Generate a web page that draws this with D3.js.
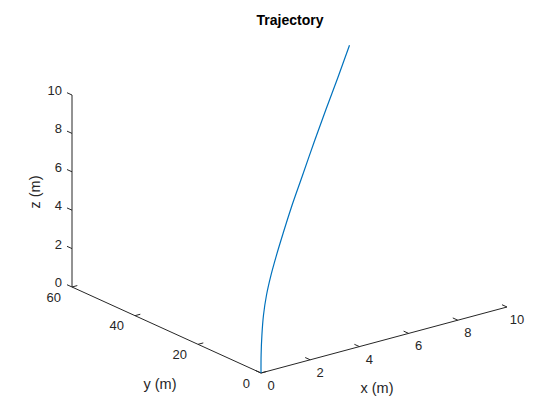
<!DOCTYPE html>
<html>
<head>
<meta charset="utf-8">
<script src="https://cdn.jsdelivr.net/npm/d3@7"></script>
<style>
  body { margin: 0; background: #fff; }
  text { font-family: Arial, "Liberation Sans", Helvetica, sans-serif; fill: #262626; }
</style>
</head>
<body>
<div id="chart"></div>
<script>
// trajectory samples (m)
var xs = [0, 0.02, 0.11, 0.29, 0.63, 1.13, 1.76, 2.44, 3.41, 4.66, 6.01, 7.35, 8.66, 10.0];
var ys = [0, 0.12, 0.57, 1.47, 3.17, 5.65, 8.82, 12.2, 17.06, 23.28, 30.06, 36.73, 43.28, 50.0];
var zs = [0, 0.92, 1.90, 2.81, 3.61, 4.29, 4.88, 5.44, 6.15, 6.92, 7.72, 8.48, 9.16, 9.9];

var xDomain = [0, 10], yDomain = [0, 60], zDomain = [0, 10];
var xTicks = [0, 2, 4, 6, 8, 10], yTicks = [0, 20, 40, 60], zTicks = [0, 2, 4, 6, 8, 10];

var W = 560, H = 420;
var svg = d3.select("#chart").append("svg").attr("width", W).attr("height", H);

// projected axes: origin and screen vectors of each full axis
var O = [261, 373];
var vx = [246, -66], vy = [-189, -86], vz = [0, -192];

var sx = d3.scaleLinear().domain(xDomain).range([0, 1]);
var sy = d3.scaleLinear().domain(yDomain).range([0, 1]);
var sz = d3.scaleLinear().domain(zDomain).range([0, 1]);

function proj(x, y, z) {
    var a = sx(x), b = sy(y), c = sz(z);
    return [O[0] + a*vx[0] + b*vy[0] + c*vz[0], O[1] + a*vx[1] + b*vy[1] + c*vz[1]];
}
function unit(v) { var l = Math.hypot(v[0], v[1]); return [v[0]/l, v[1]/l]; }
var ux = unit(vx), uy = unit(vy);
var tl = 5.5;

var g = svg.append("g");
var axisStyle = function(sel){ sel.attr("stroke", "#262626").attr("stroke-width", 1).attr("fill", "none"); };

// x axis along y=0, z=0
var p0 = proj(0,0,0), p1 = proj(10,0,0);
g.append("line").attr("x1",p0[0]).attr("y1",p0[1]).attr("x2",p1[0]).attr("y2",p1[1]).call(axisStyle);
xTicks.forEach(function(t){
    var p = proj(t,0,0);
    g.append("line").attr("x1",p[0]).attr("y1",p[1]).attr("x2",p[0]+uy[0]*tl).attr("y2",p[1]+uy[1]*tl).call(axisStyle);
    g.append("text").attr("x",p[0]+10).attr("y",p[1]+12.5).attr("dy","0.35em")
        .attr("text-anchor","middle").attr("font-size","13px").text(t);
});

// y axis along x=0, z=0
var q1 = proj(0,60,0);
g.append("line").attr("x1",p0[0]).attr("y1",p0[1]).attr("x2",q1[0]).attr("y2",q1[1]).call(axisStyle);
yTicks.forEach(function(t){
    var p = proj(0,t,0);
    g.append("line").attr("x1",p[0]).attr("y1",p[1]).attr("x2",p[0]+ux[0]*tl).attr("y2",p[1]+ux[1]*tl).call(axisStyle);
    g.append("text").attr("x",p[0]-11).attr("y",p[1]+10).attr("dy","0.35em")
        .attr("text-anchor","end").attr("font-size","13px").text(t);
});

// z axis at x=0, y=60
var r1 = proj(0,60,10);
g.append("line").attr("x1",q1[0]).attr("y1",q1[1]).attr("x2",r1[0]).attr("y2",r1[1]).call(axisStyle);
zTicks.forEach(function(t){
    var p = proj(0,60,t);
    g.append("line").attr("x1",p[0]).attr("y1",p[1]).attr("x2",p[0]+uy[0]*tl).attr("y2",p[1]+uy[1]*tl).call(axisStyle);
    g.append("text").attr("x",p[0]-10).attr("y",p[1]-4.5).attr("dy","0.35em")
        .attr("text-anchor","end").attr("font-size","13px").text(t);
});

// axis labels
g.append("text").attr("x",377).attr("y",388).attr("dy","0.35em").attr("text-anchor","middle")
    .attr("font-size","14.5px").text("x (m)");
g.append("text").attr("x",160).attr("y",384).attr("dy","0.35em").attr("text-anchor","middle")
    .attr("font-size","14.5px").text("y (m)");
g.append("text").attr("transform","translate(35,192) rotate(-90)").attr("dy","0.35em")
    .attr("text-anchor","middle").attr("font-size","14.5px").text("z (m)");

// title
svg.append("text").attr("x",290).attr("y",20).attr("dy","0.35em").attr("text-anchor","middle")
    .attr("font-size","14px").attr("font-weight","bold").style("fill","#000").text("Trajectory");

// trajectory
var pts = xs.map(function(x,i){ return proj(x, ys[i], zs[i]); });
var line = d3.line().curve(d3.curveCatmullRom.alpha(0.5));
g.append("path").attr("d", line(pts)).attr("fill","none")
    .attr("stroke","#0072BD").attr("stroke-width",1.2);
</script>
</body>
</html>
